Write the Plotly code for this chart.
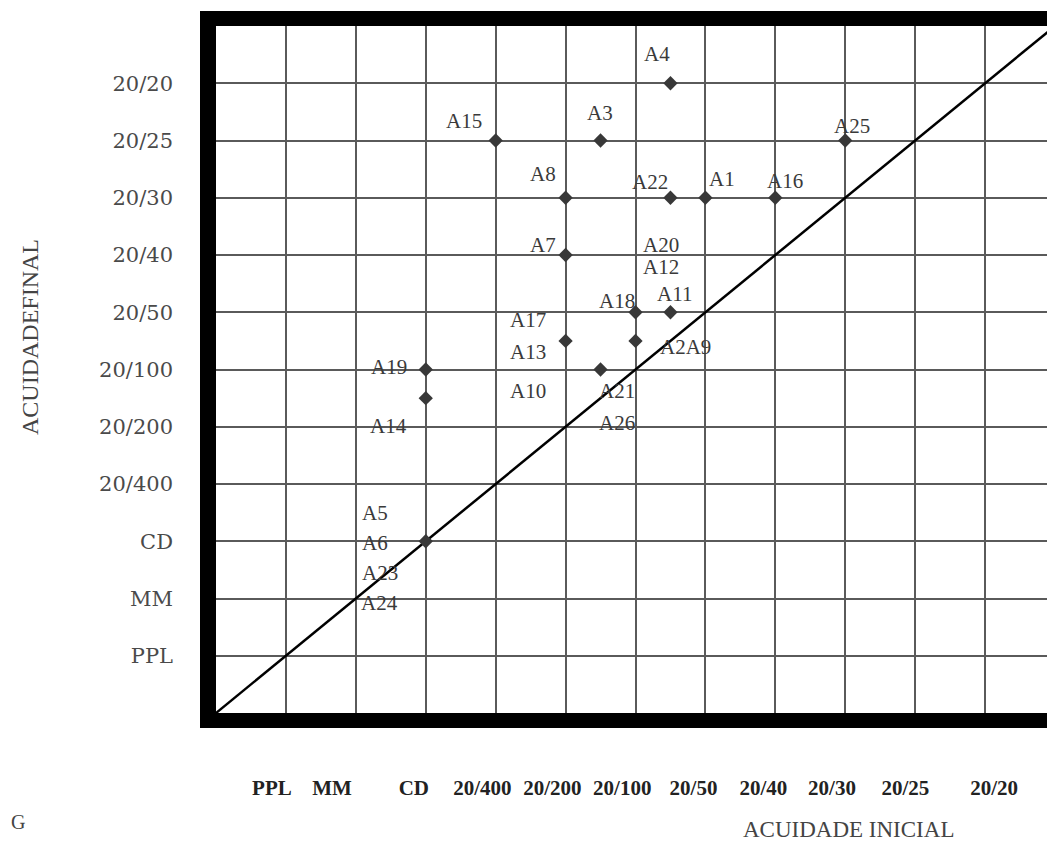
import plotly.graph_objects as go

# Visual acuity scale (index 1..11 on both axes)
acuity_levels = ["PPL", "MM", "CD", "20/400", "20/200", "20/100",
                 "20/50", "20/40", "20/30", "20/25", "20/20"]
acuity_index = list(range(1, 12))

# Patient points (initial acuity index, final acuity index)
initial_acuity = [6.5, 4, 5.5, 9, 5, 6.5, 7, 8, 5, 6, 6.5, 5, 6, 3, 5.5, 3, 3]
final_acuity = [11, 10, 10, 10, 9, 9, 9, 9, 8, 7, 7, 6.5, 6.5, 6, 6, 5.5, 3]

# Patient labels and where they sit on the chart (axis units)
label_text = ["A4", "A15", "A3", "A25", "A8", "A22", "A1", "A16", "A7", "A20",
              "A12", "A11", "A18", "A17", "A13", "A2A9", "A19", "A10", "A21",
              "A14", "A26", "A5", "A6", "A23", "A24"]
label_x = [6.31, 3.54, 5.49, 9.1, 4.67, 6.21, 7.23, 8.14, 4.67, 6.37,
           6.37, 6.56, 5.73, 4.46, 4.46, 6.71, 2.47, 4.46, 5.73,
           2.47, 5.73, 2.27, 2.27, 2.34, 2.34]
label_y = [11.51, 10.34, 10.48, 10.26, 9.42, 9.28, 9.33, 9.30, 8.18, 8.18,
           7.79, 7.32, 7.19, 6.86, 6.30, 6.40, 6.05, 5.63, 5.63,
           5.02, 5.06, 3.49, 2.97, 2.44, 1.92]

# X tick labels (placed as printed in the original)
x_tick_text = ["PPL", "MM", "CD", "20/400", "20/200", "20/100",
               "20/50", "20/40", "20/30", "20/25", "20/20"]
x_tick_pos = [0.8, 1.66, 2.83, 3.81, 4.81, 5.81, 6.83, 7.83, 8.81, 9.86, 11.13]

AXIS_MAX = 12

fig = go.Figure()

# Identity (no change) line
fig.add_trace(go.Scatter(
    x=[0, AXIS_MAX], y=[0, AXIS_MAX], mode="lines",
    line=dict(color="black", width=2.5), hoverinfo="skip", showlegend=False))

fig.add_trace(go.Scatter(
    x=initial_acuity, y=final_acuity, mode="markers",
    marker=dict(symbol="diamond", size=11, color="#383838"),
    showlegend=False))

for t, x, y in zip(label_text, label_x, label_y):
    fig.add_annotation(x=x, y=y, xref="x", yref="y", text=t, showarrow=False,
                       xanchor="center", yanchor="middle",
                       font=dict(family="Liberation Serif", size=21, color="#3a3a3a"))

grid_color = "#5a5a5a"
fig.update_xaxes(
    range=[0, AXIS_MAX], tickmode="array", tickvals=x_tick_pos, ticktext=x_tick_text,
    showgrid=False, zeroline=False, showline=False, ticks="",
    ticklabelstandoff=60,
    tickfont=dict(family="Liberation Serif", size=21, color="#222", weight="bold"),
    minor=dict(tickmode="array", tickvals=list(range(0, AXIS_MAX + 1)),
               showgrid=True, gridcolor=grid_color, gridwidth=1.6, ticks=""),
    fixedrange=True)
fig.update_yaxes(
    range=[0, AXIS_MAX], tickmode="array", tickvals=acuity_index, ticktext=acuity_levels,
    showgrid=True, gridcolor=grid_color, gridwidth=1.6,
    zeroline=False, showline=False, ticks="",
    ticklabelstandoff=42,
    tickfont=dict(family="DejaVu Serif", size=21, color="#4a4a4a"),
    fixedrange=True)

# The page body has an 8px margin; target coordinates below are window pixels.
OFF = 8
W, H = 1055 - OFF, 844 - OFF
L, T = 216 - OFF, 26 - OFF
PLOT_BOTTOM = 713 - OFF
R, B = 0, H - PLOT_BOTTOM
pw, ph = W - L - R, H - T - B

def px(xp):
    return (xp - OFF - L) / pw

def py(yp):
    return (PLOT_BOTTOM - (yp - OFF)) / ph

# Thick frame
frame = dict(type="rect", xref="paper", yref="paper", fillcolor="black",
             line=dict(width=0), layer="above")
fig.add_shape(**frame, x0=px(200), x1=px(216), y0=py(728), y1=py(11))
fig.add_shape(**frame, x0=px(200), x1=px(1070), y0=py(26), y1=py(11))
fig.add_shape(**frame, x0=px(200), x1=px(1070), y0=py(728), y1=py(713))

# Axis titles
fig.add_annotation(x=px(848), y=py(829), xref="paper", yref="paper",
                   xanchor="center", yanchor="middle",
                   text="ACUIDADE INICIAL", showarrow=False,
                   font=dict(family="Liberation Serif", size=23, color="#444"))
fig.add_annotation(x=px(30), y=py(337), xref="paper", yref="paper",
                   xanchor="center", yanchor="middle",
                   text="ACUIDADEFINAL", showarrow=False, textangle=-90,
                   font=dict(family="Liberation Serif", size=24, color="#444"))
fig.add_annotation(x=px(9), y=py(822), xref="paper", yref="paper",
                   xanchor="left", yanchor="middle",
                   text="G", showarrow=False,
                   font=dict(family="Liberation Serif", size=20, color="#444"))

fig.update_layout(
    width=W, height=H, margin=dict(l=L, r=R, t=T, b=B),
    paper_bgcolor="white", plot_bgcolor="white", showlegend=False)

fig.write_html("out.html")
